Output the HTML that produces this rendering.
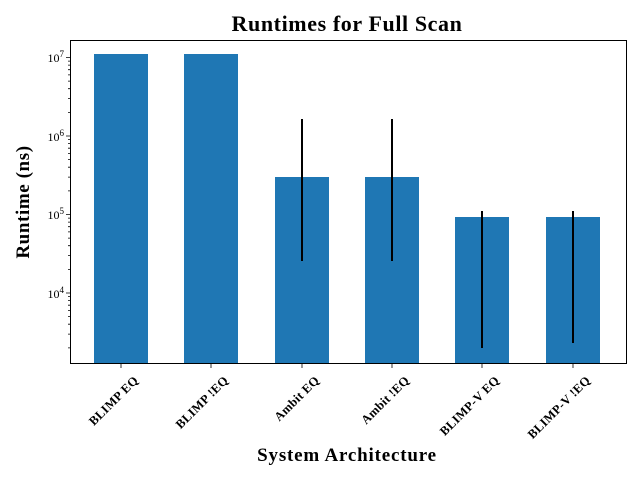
<!DOCTYPE html>
<html><head><meta charset="utf-8"><style>body{margin:0;background:#fff}svg{display:block}</style></head>
<body>
<svg width="640" height="480" xmlns="http://www.w3.org/2000/svg" font-family="Liberation Serif, serif">
<rect width="640" height="480" fill="#fff"/>
<g fill="#1f77b4">
<rect x="94" y="54" width="54" height="309"/>
<rect x="184" y="54" width="54" height="309"/>
<rect x="275" y="177" width="54" height="186"/>
<rect x="365" y="177" width="54" height="186"/>
<rect x="455" y="217" width="54" height="146"/>
<rect x="546" y="217" width="54" height="146"/>
</g>
<g stroke="#000" stroke-width="2">
<line x1="302" y1="119" x2="302" y2="261"/>
<line x1="392" y1="119" x2="392" y2="261"/>
<line x1="482" y1="211" x2="482" y2="348"/>
<line x1="573" y1="211" x2="573" y2="343"/>
</g>
<rect x="70.5" y="40.5" width="556" height="323" fill="none" stroke="#000" stroke-width="1"/>
<path stroke="#000" stroke-width="0.8" fill="none" d="
M66 293H70M66 214.5H70M66 136H70M66 57.5H70
M68 347.9H70M68 334.1H70M68 324.2H70M68 316.6H70M68 310.4H70M68 305.2H70M68 300.6H70M68 296.6H70
M68 269.4H70M68 255.6H70M68 245.7H70M68 238.1H70M68 231.9H70M68 226.7H70M68 222.1H70M68 218.1H70
M68 190.9H70M68 177.1H70M68 167.2H70M68 159.6H70M68 153.4H70M68 148.2H70M68 143.6H70M68 139.6H70
M68 112.4H70M68 98.6H70M68 88.7H70M68 81.1H70M68 74.9H70M68 69.7H70M68 65.1H70M68 61.1H70
M121 364V368M211 364V368M302 364V368M392 364V368M482 364V368M573 364V368"/>
<g font-size="12" fill="#000" text-anchor="end">
<text x="64" y="62">10<tspan dy="-5" font-size="9">7</tspan></text>
<text x="64" y="141">10<tspan dy="-5" font-size="9">6</tspan></text>
<text x="64" y="219">10<tspan dy="-5" font-size="9">5</tspan></text>
<text x="64" y="298">10<tspan dy="-5" font-size="9">4</tspan></text>
</g>
<g font-size="12.5" font-weight="bold" text-anchor="end" fill="#000" letter-spacing="0.3">
<text transform="translate(139,381) rotate(-45)">BLIMP EQ</text>
<text transform="translate(229,381) rotate(-45)">BLIMP !EQ</text>
<text transform="translate(320,381) rotate(-45)">Ambit EQ</text>
<text transform="translate(410,381) rotate(-45)">Ambit !EQ</text>
<text transform="translate(500,381) rotate(-45)">BLIMP-V EQ</text>
<text transform="translate(591,381) rotate(-45)">BLIMP-V !EQ</text>
</g>
<text x="347" y="31" font-size="22" font-weight="bold" text-anchor="middle" letter-spacing="0.6">Runtimes for Full Scan</text>
<text x="347" y="461" font-size="19" font-weight="bold" text-anchor="middle" letter-spacing="0.8">System Architecture</text>
<text transform="translate(29,202) rotate(-90)" font-size="19" font-weight="bold" text-anchor="middle" letter-spacing="0.6">Runtime (ns)</text>
</svg>
</body></html>
